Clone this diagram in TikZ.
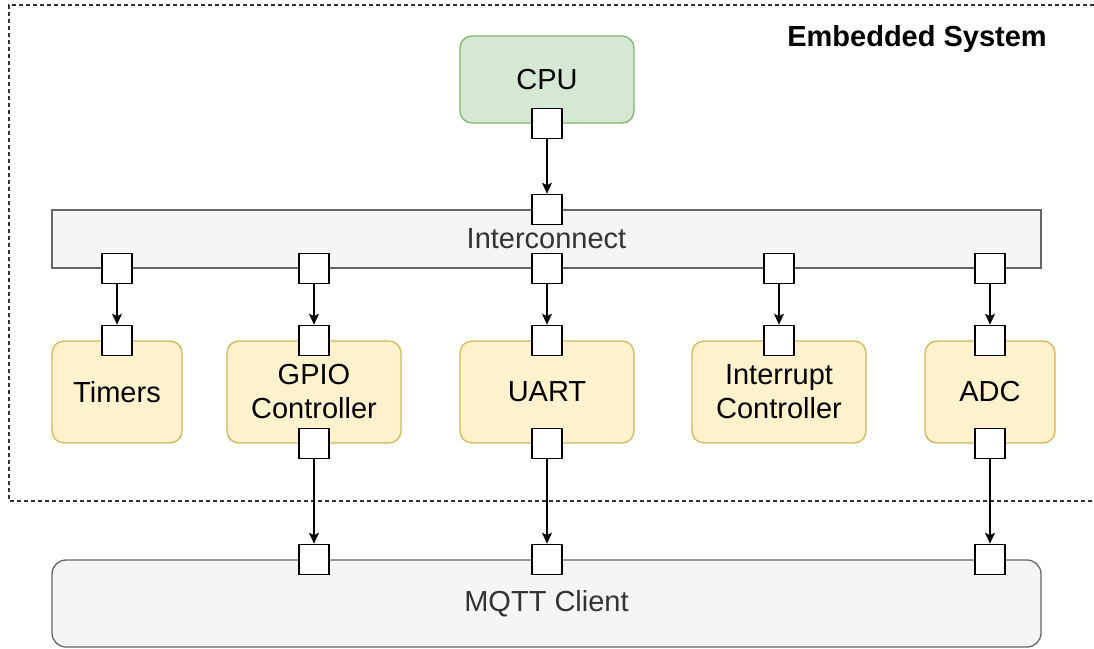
\documentclass[tikz,border=0pt]{standalone}
\usepackage{fontspec}
\setmainfont{Liberation Sans}
\usetikzlibrary{arrows.meta}
\definecolor{greenfill}{HTML}{D5E8D4}
\definecolor{greenline}{HTML}{82B366}
\definecolor{yellowfill}{HTML}{FFF2CC}
\definecolor{yellowline}{HTML}{D6B656}
\definecolor{grayfill}{HTML}{F5F5F5}
\definecolor{grayline}{HTML}{666666}
\definecolor{graytext}{HTML}{333333}
\begin{document}
\begin{tikzpicture}[x = 1pt, y = -1pt,
  every node/.style = {font = \fontsize{29}{34}\selectfont, inner sep = 0pt, align = center},
  block/.style = {draw, line width = 1.3pt, rounded corners = 12pt, minimum height = 102pt},
  cpubox/.style = {block, fill = greenfill, draw = greenline, minimum width = 174pt, minimum height = 87pt},
  unit/.style = {block, fill = yellowfill, draw = yellowline},
  busbox/.style = {draw = grayline, fill = grayfill, text = graytext, line width = 1.3pt, minimum width = 989pt},
  port/.style = {draw, fill = white, line width = 1.3pt, minimum width = 30pt, minimum height = 30pt},
  flow/.style = {-{Stealth[length = 11pt, width = 10pt, inset = 2.5pt]}, line width = 1.3pt}]
\useasboundingbox (0,0) rectangle (1094,648);
\draw [graytext, line width = 1.2pt, dash pattern = on 4pt off 3pt] (1094,5) -- (9,5) -- (9,501) -- (1094,501);
\node [anchor = base east, font = \fontsize{29}{34}\selectfont\bfseries] (title) at (1047,46) {Embedded System};
\node [cpubox] (cpu) at (547,79.5) {CPU};
\node [busbox, minimum height = 58pt] (ic) at (546.5,239) {Interconnect};
\node [unit, minimum width = 130pt] (timers) at (117,392) {Timers};
\node [unit, minimum width = 174pt] (gpio) at (314,392) {GPIO\\Controller};
\node [unit, minimum width = 174pt] (uart) at (547,392) {UART};
\node [unit, minimum width = 174pt] (irq) at (779,392) {Interrupt\\Controller};
\node [unit, minimum width = 130pt] (adc) at (990,392) {ADC};
\node [busbox, rounded corners = 14pt, minimum height = 87pt] (mqtt) at (546.5,603.5) {MQTT Client};
\node [port] (cpu-out) at (cpu.south) {};
\node [port] (ic-in) at (cpu.south |- ic.north) {};
\foreach \u in {timers, gpio, uart, irq, adc} {
  \node [port] (ic-\u) at (\u.north |- ic.south) {};
  \node [port] (\u-in) at (\u.north) {};
  \draw [flow] (ic-\u) -- (\u-in);
}
\foreach \u in {gpio, uart, adc} {
  \node [port] (\u-out) at (\u.south) {};
  \node [port] (mqtt-\u) at (\u.south |- mqtt.north) {};
  \draw [flow] (\u-out) -- (mqtt-\u);
}
\draw [flow] (cpu-out) -- (ic-in);
\end{tikzpicture}
\end{document}
